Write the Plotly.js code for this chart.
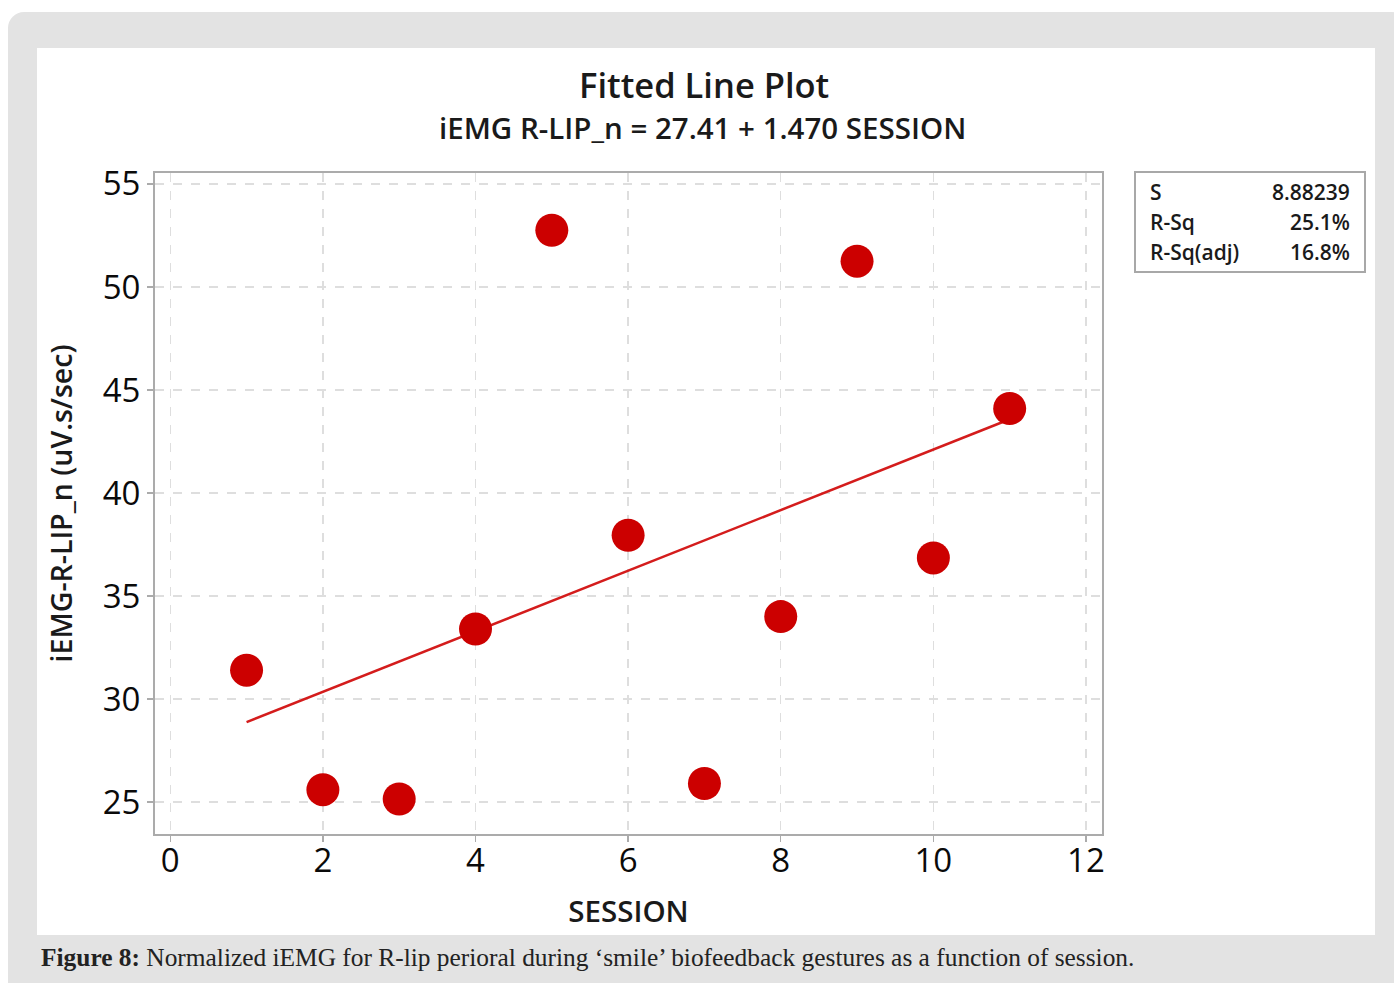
<!DOCTYPE html>
<html>
<head>
<meta charset="utf-8">
<script src="https://cdn.plot.ly/plotly-3.0.1.min.js"></script>
<style>
  html, body { margin: 0; padding: 0; background: #ffffff; }
  #frame { position: absolute; left: 8px; top: 12px; width: 1400px; height: 990px; background: #e3e3e3; border-radius: 16px; }
  #panel { position: absolute; left: 37px; top: 48px; width: 1338px; height: 887px; background: #ffffff; }
  #chart { position: absolute; left: 0; top: 0; width: 1394px; height: 983px; }
</style>
</head>
<body>
<div id="frame"></div>
<div id="panel"></div>
<div id="chart"></div>
<script>
// ---- data ----
const session = [1, 2, 3, 4, 5, 6, 7, 8, 9, 10, 11];
const iemg = [31.4, 25.6, 25.15, 33.4, 52.75, 37.95, 25.9, 34.0, 51.25, 36.85, 44.1];
const fitIntercept = [27.41];
const fitSlope = [1.470];
const xTicks = [0, 2, 4, 6, 8, 10, 12];
const yTicks = [25, 30, 35, 40, 45, 50, 55];
const statLabels = ['S', 'R-Sq', 'R-Sq(adj)'];
const statValues = ['8.88239', '25.1%', '16.8%'];

const fitX = [Math.min(...session), Math.max(...session)];
const fitY = fitX.map(x => fitIntercept[0] + fitSlope[0] * x);

const sans = 'Open Sans, Noto Sans, sans-serif';
const red = '#cc0000';

// layout geometry (pixels)
const L = 155, R = 1102, T = 173, B = 834;
const W = 1394, H = 983;
const px = x => (x - L) / (R - L);
const py = y => (B - y) / (B - T);

const traces = [
  {
    x: fitX, y: fitY, mode: 'lines', type: 'scatter',
    line: { color: '#d41c1c', width: 2.5 }, hoverinfo: 'skip', showlegend: false
  },
  {
    x: session, y: iemg, mode: 'markers', type: 'scatter',
    marker: { color: red, size: 33, line: { width: 0 } }, showlegend: false
  }
];

const annotations = [
  { text: 'Fitted Line Plot', xref: 'paper', yref: 'paper', x: px(704), y: py(84), xanchor: 'center', yanchor: 'middle', showarrow: false, font: { family: sans, size: 34.5, color: '#1a1a1a', weight: 600 } },
  { text: 'iEMG R-LIP_n = 27.41 + 1.470 SESSION', xref: 'paper', yref: 'paper', x: px(702), y: py(127), xanchor: 'center', yanchor: 'middle', showarrow: false, font: { family: sans, size: 29.5, color: '#1a1a1a', weight: 600 } },
  { text: '<b>Figure 8:</b> Normalized iEMG for R-lip perioral during ‘smile’ biofeedback gestures as a function of session.', xref: 'paper', yref: 'paper', x: px(39), y: py(957), xanchor: 'left', yanchor: 'middle', showarrow: false, font: { family: 'Liberation Serif, DejaVu Serif, serif', size: 25.4, color: '#222222' } }
];
statLabels.forEach((lab, i) => {
  const yy = py(192 + 30 * i);
  annotations.push({ text: lab, xref: 'paper', yref: 'paper', x: px(1148), y: yy, xanchor: 'left', yanchor: 'middle', showarrow: false, font: { family: sans, size: 21, color: '#1a1a1a', weight: 600 } });
  annotations.push({ text: statValues[i], xref: 'paper', yref: 'paper', x: px(1352), y: yy, xanchor: 'right', yanchor: 'middle', showarrow: false, font: { family: sans, size: 21, color: '#1a1a1a', weight: 600 } });
});

const layout = {
  width: W, height: H,
  margin: { l: L, r: W - R, t: T, b: H - B, pad: 0 },
  paper_bgcolor: 'rgba(0,0,0,0)',
  plot_bgcolor: '#ffffff',
  showlegend: false,
  xaxis: {
    range: [-0.2, 12.21], tickvals: xTicks, ticktext: xTicks.map(String),
    showgrid: true, gridcolor: '#dedede', griddash: 'dash', gridwidth: 1.5,
    zeroline: false, showline: true, mirror: true, linecolor: '#ababab', linewidth: 2,
    ticks: 'outside', ticklen: 6, tickcolor: '#ababab', tickwidth: 1.5,
    ticklabelstandoff: -10,
    tickfont: { family: sans, size: 33, color: '#0a0a0a', weight: 500 },
    title: { text: 'SESSION', font: { family: sans, size: 29.5, color: '#1a1a1a', weight: 600 }, standoff: 21 }
  },
  yaxis: {
    range: [23.45, 55.53], tickvals: yTicks, ticktext: yTicks.map(String),
    showgrid: true, gridcolor: '#dedede', griddash: 'dash', gridwidth: 1.5,
    zeroline: false, showline: true, mirror: true, linecolor: '#ababab', linewidth: 2,
    ticks: 'outside', ticklen: 6, tickcolor: '#ababab', tickwidth: 1.5,
    tickfont: { family: sans, size: 33, color: '#0a0a0a', weight: 500 },
    title: { text: 'iEMG-R-LIP_n (uV.s/sec)', font: { family: sans, size: 28.5, color: '#1a1a1a', weight: 600 }, standoff: 22 }
  },
  shapes: [
    { type: 'rect', xref: 'paper', yref: 'paper', x0: px(1135), x1: px(1365), y0: py(272), y1: py(172), line: { color: '#a8a8a8', width: 2 }, fillcolor: 'rgba(0,0,0,0)' }
  ],
  annotations: annotations
};

Plotly.newPlot('chart', traces, layout, { displayModeBar: false, staticPlot: true });
</script>
</body>
</html>
